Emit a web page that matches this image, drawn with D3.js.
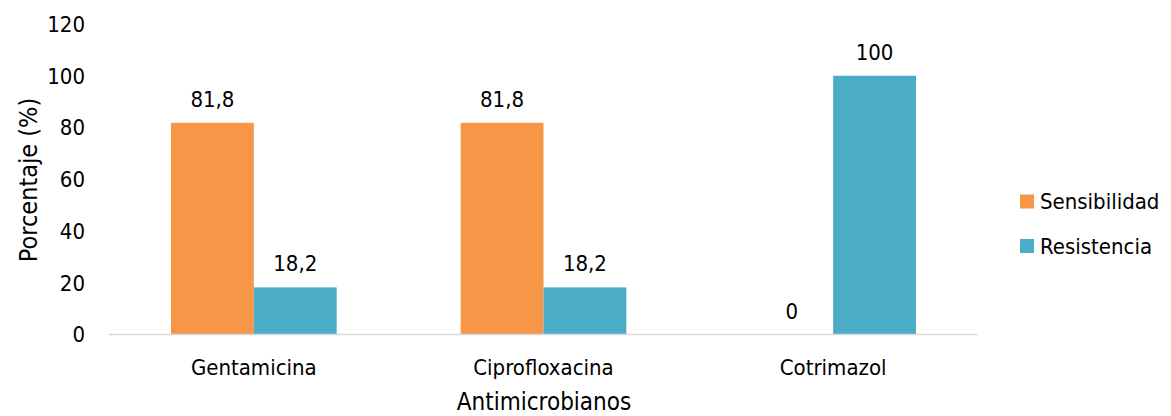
<!DOCTYPE html>
<html><head><meta charset="utf-8">
<script src="https://cdn.jsdelivr.net/npm/d3@7"></script>
<style>body{margin:0;background:#fff}svg{display:block}text{font-family:"DejaVu Sans Condensed","DejaVu Sans",sans-serif;fill:#000}</style>
</head><body><svg id="c" width="1171" height="416"></svg>
<script>
const categories = ["Gentamicina","Ciprofloxacina","Cotrimazol"];
const seriesNames = ["Sensibilidad","Resistencia"];
const sensibilidad = [81.8, 81.8, 0];
const resistencia = [18.2, 18.2, 100];
const valueLabels = [["81,8","81,8","0"],["18,2","18,2","100"]];
const yTicks = [0,20,40,60,80,100,120];
const colors = ["#F79646","#4BACC6"];

const svg = d3.select("#c");
const x0 = d3.scaleBand().domain(categories).range([109,978]).paddingInner(0.428).paddingOuter(0.214);
const x1 = d3.scaleBand().domain(seriesNames).range([0,x0.bandwidth()]);
const y = d3.scaleLinear().domain([0,120]).range([334.5,24]);

// y tick labels
svg.append("g").selectAll("text").data(yTicks).join("text")
  .attr("x",85).attr("y",d=>y(d)).attr("dy","0.36em").attr("text-anchor","end")
  .style("font-size","22px").text(d=>d);

const series = [sensibilidad, resistencia];
series.forEach((vals,si)=>{
  const g = svg.append("g");
  g.selectAll("rect").data(categories).join("rect")
    .attr("x",(c)=>x0(c)+x1(seriesNames[si]))
    .attr("width",x1.bandwidth())
    .attr("y",(c,i)=>y(vals[i]))
    .attr("height",(c,i)=>y(0)-y(vals[i]))
    .attr("fill",colors[si]);
  g.selectAll("text").data(categories).join("text")
    .attr("x",(c)=>x0(c)+x1(seriesNames[si])+x1.bandwidth()/2)
    .attr("y",(c,i)=>y(vals[i])-16)
    .attr("text-anchor","middle").style("font-size","22px")
    .text((c,i)=>valueLabels[si][i]);
});

// axis line
svg.append("line").attr("x1",109).attr("x2",978).attr("y1",y(0)).attr("y2",y(0))
  .attr("stroke","#d9d9d9").attr("stroke-width",1.5);

// category labels
svg.append("g").selectAll("text").data(categories).join("text")
  .attr("x",c=>x0(c)+x0.bandwidth()/2).attr("y",375).attr("text-anchor","middle")
  .style("font-size","22px").text(c=>c);

// axis titles
svg.append("text").attr("x",544).attr("y",410).attr("text-anchor","middle")
  .style("font-size","24px").text("Antimicrobianos");
svg.append("text").attr("transform","translate(37,180) rotate(-90)").attr("text-anchor","middle")
  .style("font-size","25px").text("Porcentaje (%)");

// legend
const lg = svg.append("g").selectAll("g").data(seriesNames).join("g")
  .attr("transform",(d,i)=>`translate(1020,${201.5+i*44.5})`);
lg.append("rect").attr("x",0).attr("y",-7).attr("width",14).attr("height",14).attr("fill",(d,i)=>colors[i]);
lg.append("text").attr("x",20).attr("y",0).attr("dy","0.36em").style("font-size","22px").text(d=>d);
</script></body></html>
